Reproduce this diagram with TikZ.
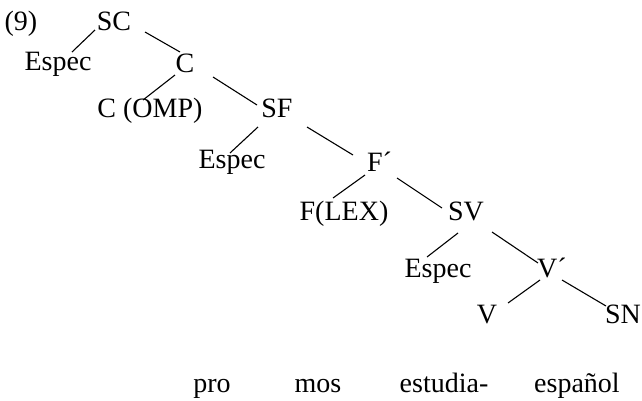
\documentclass[tikz,border=0pt]{standalone}
\usepackage{fontspec}
\setmainfont{Liberation Serif}
\begin{document}
\begin{tikzpicture}[
  lab/.style={anchor=base, inner sep=0pt, font=\fontsize{28}{32}\selectfont},
  edge/.style={line width=1.1pt}
]
\useasboundingbox (0pt,0pt) rectangle (642pt,-400pt);
\node[lab] (n9) at (21pt,-30pt) {(9)};
\node[lab] (SC) at (114pt,-30pt) {SC};
\node[lab] (E1) at (58pt,-70pt) {Espec};
\node[lab] (C) at (185pt,-72pt) {C};
\node[lab] (COMP) at (150pt,-117pt) {C (OMP)};
\node[lab] (SF) at (277pt,-117pt) {SF};
\node[lab] (E2) at (232pt,-168pt) {Espec};
\node[lab] (Fb) at (379.5pt,-171pt) {F´};
\node[lab] (FLEX) at (344pt,-220pt) {F(LEX)};
\node[lab] (SV) at (466pt,-220pt) {SV};
\node[lab] (E3) at (438pt,-277pt) {Espec};
\node[lab] (Vb) at (552pt,-277pt) {V´};
\node[lab] (V) at (487pt,-323pt) {V};
\node[lab] (SN) at (623pt,-323pt) {SN};
\node[lab] (w1) at (212pt,-392pt) {pro};
\node[lab] (w2) at (318pt,-392pt) {mos};
\node[lab] (w3) at (444pt,-392pt) {estudia-};
\node[lab] (w4) at (577pt,-392pt) {español};

\draw[edge] ([shift={(-19pt,0pt)}]SC.base) -- ([shift={(14pt,18pt)}]E1.base);
\draw[edge] ([shift={(31pt,-2pt)}]SC.base) -- ([shift={(-5pt,20pt)}]C.base);
\draw[edge] ([shift={(-10pt,-3pt)}]C.base) -- ([shift={(-7pt,17pt)}]COMP.base);
\draw[edge] ([shift={(28pt,-5pt)}]C.base) -- ([shift={(-20pt,12pt)}]SF.base);
\draw[edge] ([shift={(-19pt,-10pt)}]SF.base) -- ([shift={(-2pt,15pt)}]E2.base);
\draw[edge] ([shift={(30pt,-10pt)}]SF.base) -- ([shift={(-26.5pt,16pt)}]Fb.base);
\draw[edge] ([shift={(-14.5pt,-4pt)}]Fb.base) -- ([shift={(-11pt,22pt)}]FLEX.base);
\draw[edge] ([shift={(17.5pt,-7pt)}]Fb.base) -- ([shift={(-24pt,12pt)}]SV.base);
\draw[edge] ([shift={(-8pt,-13pt)}]SV.base) -- ([shift={(-11pt,20pt)}]E3.base);
\draw[edge] ([shift={(26pt,-12pt)}]SV.base) -- ([shift={(-14pt,14pt)}]Vb.base);
\draw[edge] ([shift={(-12pt,-3pt)}]Vb.base) -- ([shift={(21pt,20pt)}]V.base);
\draw[edge] ([shift={(10pt,-3pt)}]Vb.base) -- ([shift={(-17pt,17pt)}]SN.base);
\end{tikzpicture}
\end{document}
